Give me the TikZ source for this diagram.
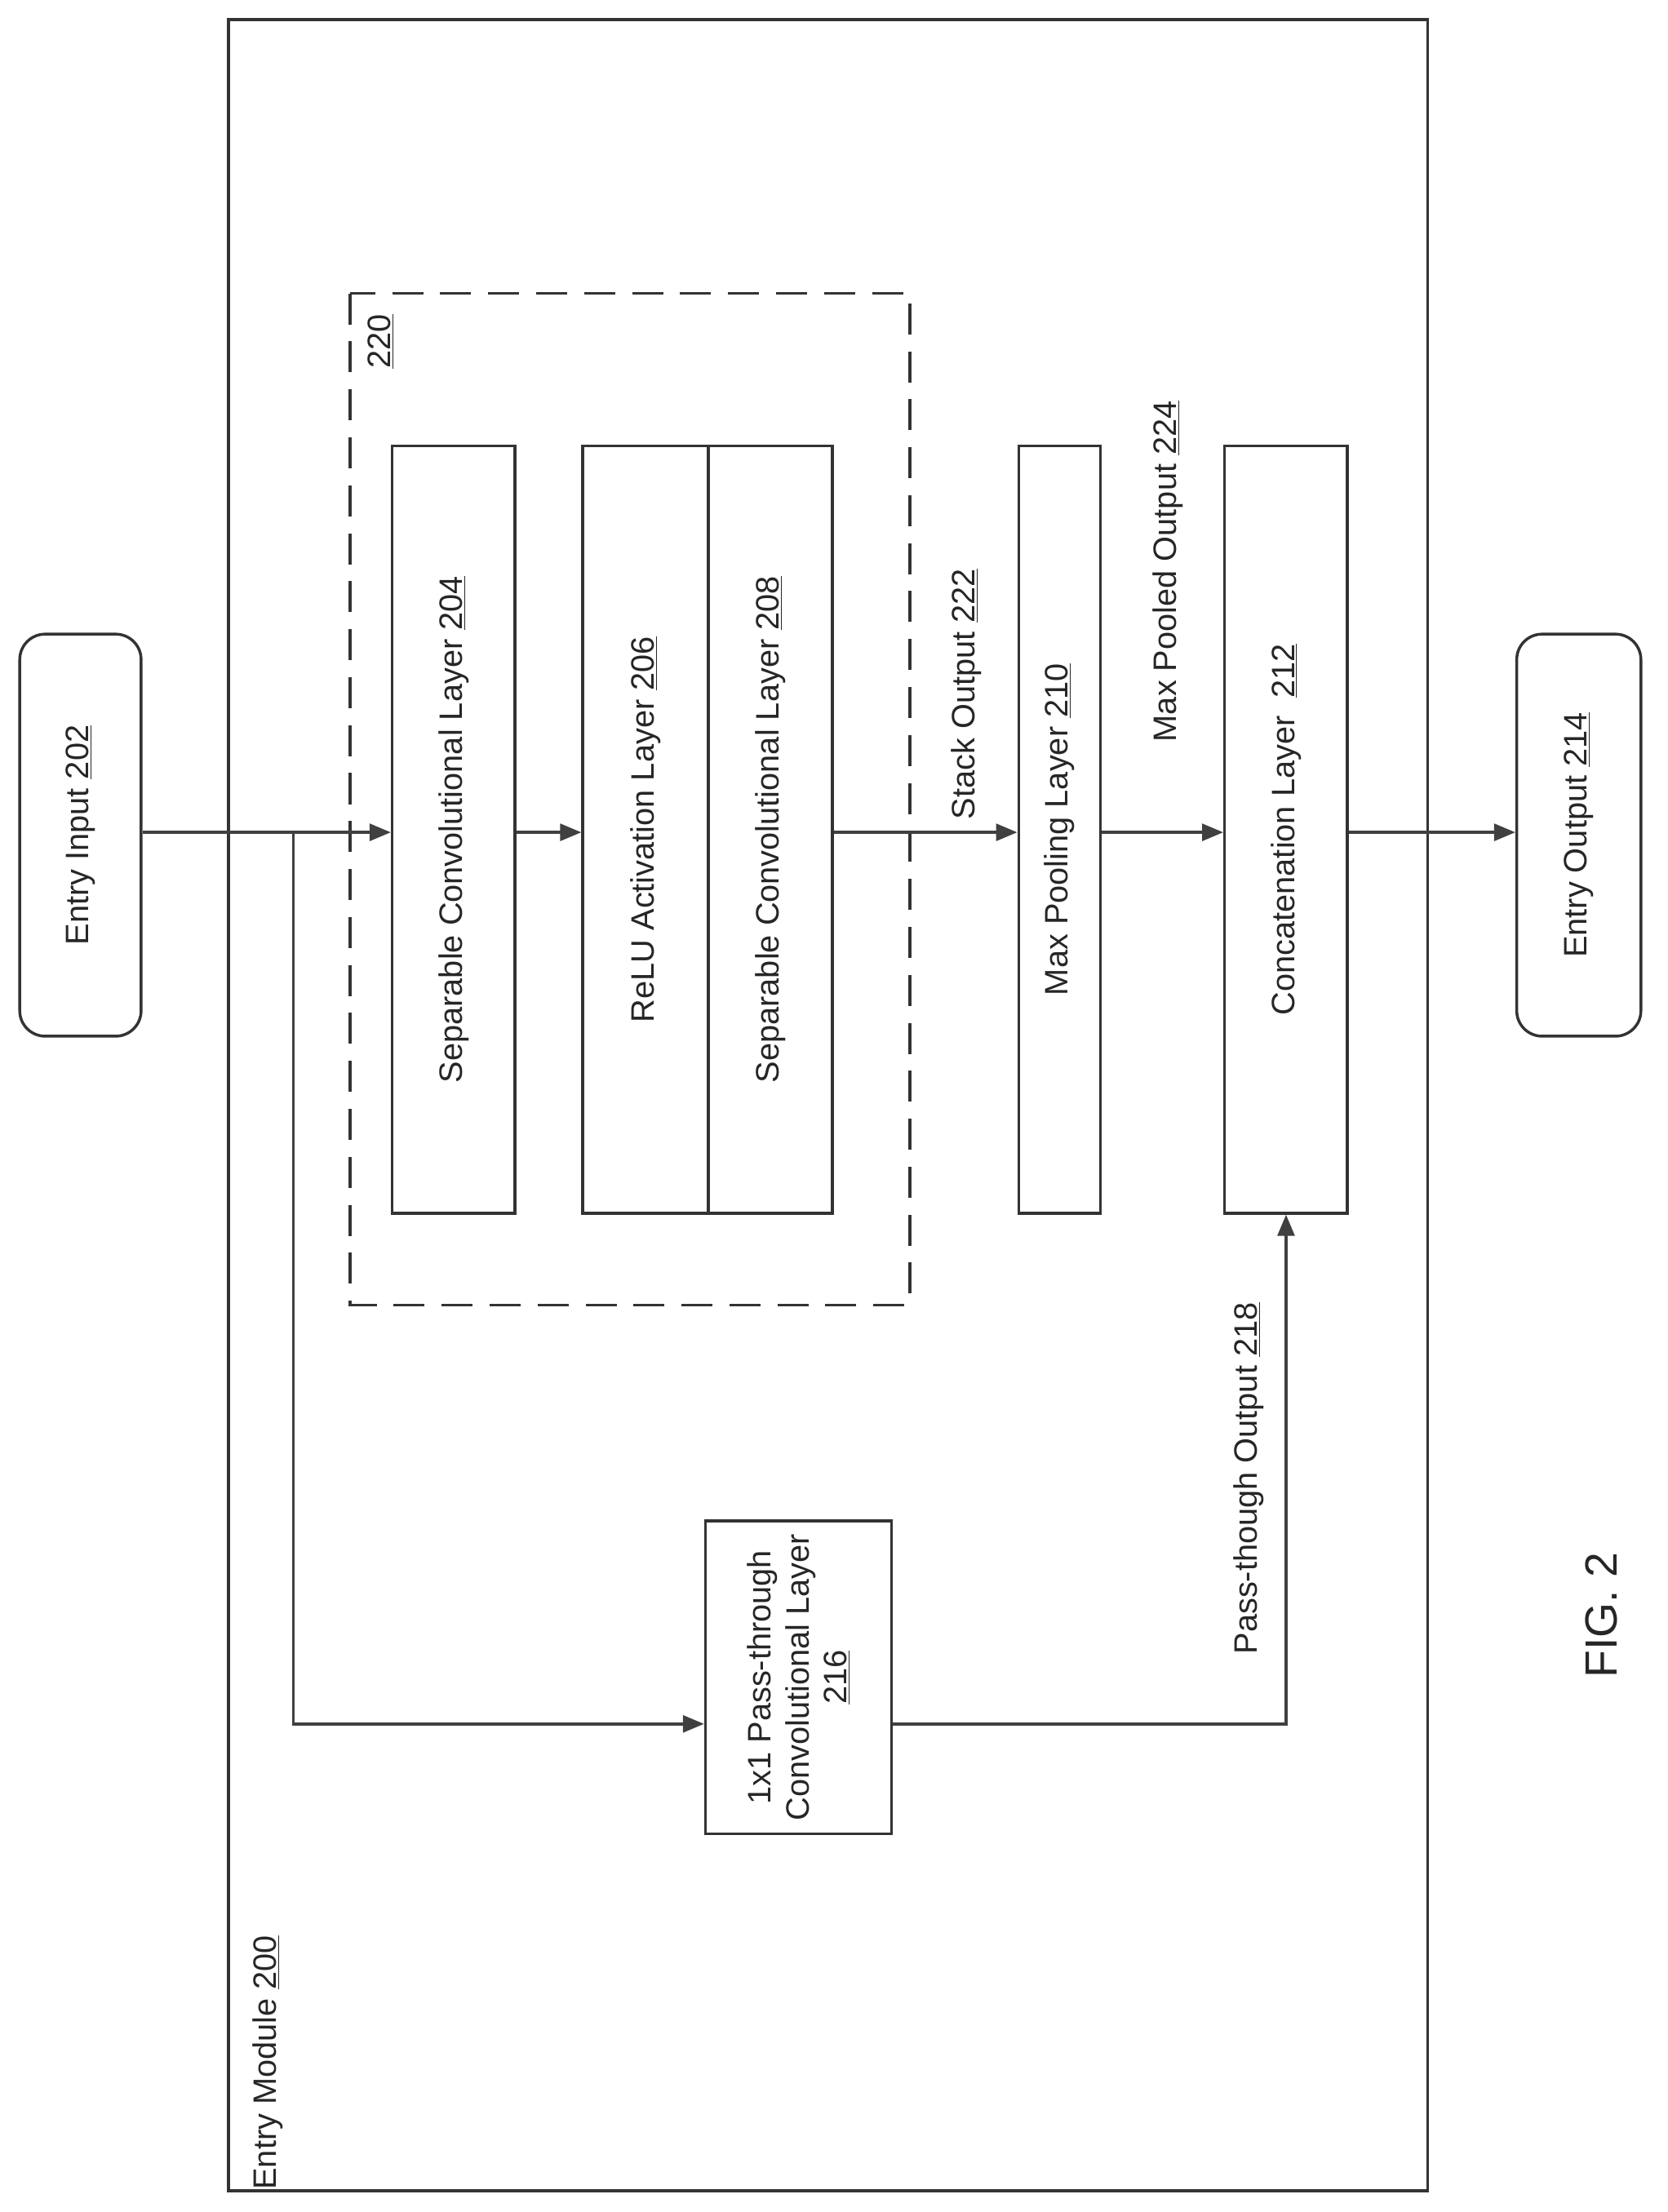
\documentclass[tikz,border=0pt]{standalone}
\usepackage{fontspec}
\setmainfont{Liberation Sans}
\usetikzlibrary{calc,positioning,arrows.meta}
\tikzset{
  box/.style={draw=black!80, line width=2pt, inner sep=0pt},
  lbl/.style={rotate=90, font=\fontsize{23}{27}\selectfont, text=black!85, align=center},
  flow/.style={draw=black!75, line width=2pt, -{Triangle[length=15pt,width=12pt]}}
}
\begin{document}
\begin{tikzpicture}[x=1pt,y=-1pt]
  \useasboundingbox (0,0) rectangle (1182,1568);
  % outer module
  \node[box, minimum width=850, minimum height=1539] (mod) at (587,783.5) {};
  \node[lbl] at (190,1462) {Entry Module \underline{200}};
  % dashed stack
  \draw[black!80, line width=2pt, dash pattern=on 22pt off 12pt] (248,208) rectangle (645,925);
  \node[lbl] at (270,242) {\underline{220}};
  % nodes
  \node[box, rounded corners=18pt, minimum width=86, minimum height=285] (in) at (57,592) {};
  \node[lbl] at (in) {Entry Input \underline{202}};
  \node[box, minimum width=87, minimum height=544] (sc1) at (321.5,588) {};
  \node[lbl] at (sc1) {Separable Convolutional Layer \underline{204}};
  \node[box, minimum width=89, minimum height=544] (relu) at (457.5,588) {};
  \node[lbl] at (relu) {ReLU Activation Layer \underline{206}};
  \node[box, minimum width=88, minimum height=544] (sc2) at (546,588) {};
  \node[lbl] at (sc2) {Separable Convolutional Layer \underline{208}};
  \node[box, minimum width=58, minimum height=544] (pool) at (751,588) {};
  \node[lbl] at (pool) {Max Pooling Layer \underline{210}};
  \node[box, minimum width=87, minimum height=544] (cat) at (911.5,588) {};
  \node[lbl] at (cat) {Concatenation Layer \ \underline{212}};
  \node[box, rounded corners=18pt, minimum width=88, minimum height=285] (out) at (1119,592) {};
  \node[lbl] at (out) {Entry Output \underline{214}};
  \node[box, minimum width=132, minimum height=222] (pt) at (566,1189) {};
  \node[lbl] at (pt) {1x1 Pass-through\\Convolutional Layer\\\underline{216}};
  % edge labels
  \node[lbl] at (685,492) {Stack Output \underline{222}};
  \node[lbl] at (828,405) {Max Pooled Output \underline{224}};
  \node[lbl] at (885,1048) {Pass-though Output \underline{218}};
  \node[lbl, font=\fontsize{32}{36}\selectfont] at (1135,1145) {FIG. 2};
  % connectors
  \coordinate (split) at (208,590);
  \coordinate (ptin) at ($(pt.west)+(0,33)$);
  \coordinate (ptout) at ($(pt.east)+(0,33)$);
  \draw[flow] (in.east |- split) -- (sc1.west |- split);
  \draw[flow] (sc1.east |- split) -- (relu.west |- split);
  \draw[flow] (sc2.east |- split) -- (pool.west |- split);
  \draw[flow] (pool.east |- split) -- (cat.west |- split);
  \draw[flow] (cat.east |- split) -- (out.west |- split);
  \draw[flow] (split) |- (ptin);
  \draw[flow] (ptout) -| (cat.south);
\end{tikzpicture}
\end{document}
